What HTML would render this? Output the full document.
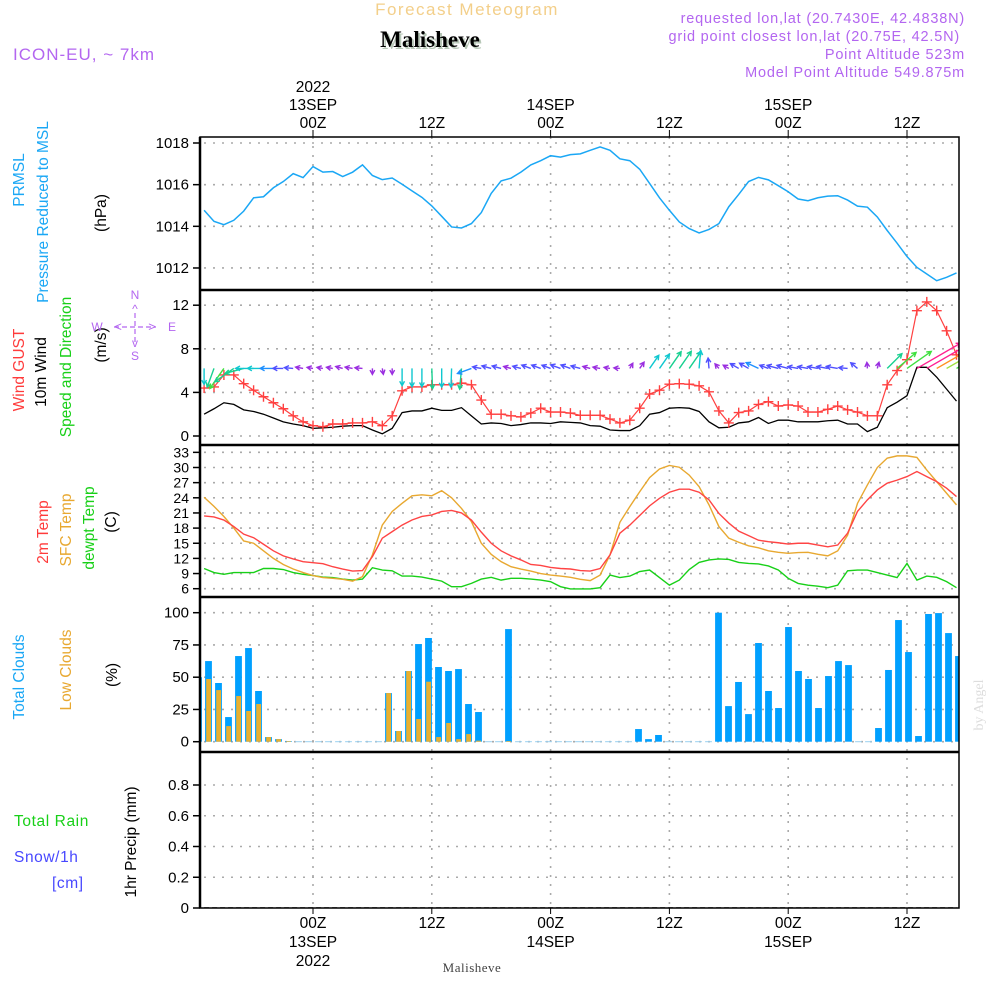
<!DOCTYPE html>
<html><head><meta charset="utf-8">
<style>
html,body{margin:0;padding:0;background:#fff;}
svg{display:block;font-family:"Liberation Sans",sans-serif;}
</style></head>
<body>
<svg id="chart" width="1000" height="1000" viewBox="0 0 1000 1000" xmlns="http://www.w3.org/2000/svg">
  <rect x="0" y="0" width="1000" height="1000" fill="#fff"/>
  <text x="467" y="15" text-anchor="middle" font-size="17" fill="#f3cf8a" letter-spacing="1.5">Forecast Meteogram</text>
  <text x="432" y="49" text-anchor="middle" font-size="23" font-weight="bold" font-family="Liberation Serif, serif" fill="#b8c8b8">Malisheve</text>
  <text x="430" y="47" text-anchor="middle" font-size="23" font-weight="bold" font-family="Liberation Serif, serif" fill="#000">Malisheve</text>
  <text x="13" y="60" font-size="17" fill="#b366f0" letter-spacing="1">ICON-EU, ~ 7km</text>
  <g font-size="14.5" fill="#b366f0" text-anchor="end" letter-spacing="0.8">
    <text x="965" y="23">requested lon,lat (20.7430E, 42.4838N)</text>
    <text x="960" y="41">grid point closest lon,lat (20.75E, 42.5N)</text>
    <text x="965" y="59">Point Altitude 523m</text>
    <text x="965" y="77">Model Point Altitude 549.875m</text>
  </g>
  <g id="plots"></g>
  <g font-size="15.5">
    <text transform="translate(24,180) rotate(-90)" text-anchor="middle" fill="#1aa7f5">PRMSL</text>
    <text transform="translate(48,212) rotate(-90)" text-anchor="middle" fill="#1aa7f5">Pressure Reduced to MSL</text>
    <text transform="translate(106,213) rotate(-90)" text-anchor="middle" fill="#000">(hPa)</text>
    <text transform="translate(24,370) rotate(-90)" text-anchor="middle" fill="#ff3b3b">Wind GUST</text>
    <text transform="translate(46,372) rotate(-90)" text-anchor="middle" fill="#000">10m Wind</text>
    <text transform="translate(71,367) rotate(-90)" text-anchor="middle" fill="#18d018">Speed and Direction</text>
    <text transform="translate(106,345) rotate(-90)" text-anchor="middle" fill="#000">(m/s)</text>
    <text transform="translate(48,532) rotate(-90)" text-anchor="middle" fill="#ff3b3b">2m Temp</text>
    <text transform="translate(71,530) rotate(-90)" text-anchor="middle" fill="#e8a830">SFC Temp</text>
    <text transform="translate(94,528) rotate(-90)" text-anchor="middle" fill="#18d018">dewpt Temp</text>
    <text transform="translate(116,522) rotate(-90)" text-anchor="middle" fill="#000">(C)</text>
    <text transform="translate(24,677) rotate(-90)" text-anchor="middle" fill="#1aa7f5">Total Clouds</text>
    <text transform="translate(71,670) rotate(-90)" text-anchor="middle" fill="#e8a830">Low Clouds</text>
    <text transform="translate(117,675) rotate(-90)" text-anchor="middle" fill="#000">(%)</text>
    <text transform="translate(136,842) rotate(-90)" text-anchor="middle" fill="#000">1hr Precip (mm)</text>
    <text x="14" y="826" fill="#18d018" letter-spacing="0.6">Total  Rain</text>
    <text x="14" y="862" fill="#4848ff" letter-spacing="0.6">Snow/1h</text>
    <text x="52" y="888" fill="#4848ff" letter-spacing="0.6">[cm]</text>
  </g>
  <g fill="#b366f0" stroke="none" font-size="12">
    <text x="135" y="299" text-anchor="middle">N</text>
    <text x="135" y="313" text-anchor="middle">^</text>
    <text x="97" y="331" text-anchor="middle">W</text>
    <text x="172" y="331" text-anchor="middle">E</text>
    <text x="135" y="347" text-anchor="middle">v</text>
    <text x="135" y="360" text-anchor="middle">S</text>
    <line x1="114" y1="327" x2="156" y2="327" stroke="#b366f0" stroke-width="1.2" stroke-dasharray="5,3"/>
    <line x1="135" y1="313" x2="135" y2="342" stroke="#b366f0" stroke-width="1.2" stroke-dasharray="5,3"/>
    <text x="118" y="331" text-anchor="middle" font-size="13">&lt;</text>
    <text x="152" y="331" text-anchor="middle" font-size="13">&gt;</text>
  </g>
  <text x="472" y="972" text-anchor="middle" font-size="13" font-family="Liberation Serif, serif" fill="#444" letter-spacing="0.5">Malisheve</text>
  <text transform="translate(983,705) rotate(-90)" text-anchor="middle" font-size="14" font-family="Liberation Serif, serif" fill="#ddd">by Angel</text>
</svg>
<script>
const startHour = -11;
const pressure = [1014.77,1014.24,1014.08,1014.29,1014.73,1015.37,1015.42,1015.85,1016.15,1016.53,1016.34,1016.87,1016.6,1016.63,1016.39,1016.6,1016.95,1016.44,1016.24,1016.32,1016.02,1015.7,1015.39,1014.98,1014.48,1013.97,1013.92,1014.13,1014.66,1015.58,1016.18,1016.31,1016.6,1016.95,1017.15,1017.39,1017.32,1017.44,1017.48,1017.65,1017.81,1017.65,1017.24,1017.15,1016.74,1016.06,1015.37,1014.77,1014.21,1013.89,1013.68,1013.85,1014.13,1014.94,1015.53,1016.15,1016.35,1016.23,1015.95,1015.66,1015.31,1015.23,1015.37,1015.45,1015.47,1015.26,1014.97,1014.92,1014.45,1013.8,1013.19,1012.55,1012.03,1011.71,1011.39,1011.55,1011.76];
const windGust = [4.4,4.5,5.6,5.6,4.8,4.2,3.6,3.05,2.5,1.85,1.3,0.95,0.85,1.1,1.1,1.2,1.2,1.3,0.95,1.85,4.15,4.5,4.5,4.7,4.7,4.7,4.85,4.7,3.3,2.0,2.0,1.85,1.75,2.1,2.55,2.2,2.2,2.1,1.9,1.9,1.9,1.55,1.2,1.45,2.55,3.85,4.2,4.75,4.8,4.75,4.6,4.05,2.3,1.2,2.15,2.3,2.9,3.15,2.75,2.85,2.75,2.2,2.2,2.45,2.75,2.4,2.2,1.85,1.85,4.7,6.0,7.0,11.5,12.3,11.5,9.65,7.45];
const wind10m = [2.0,2.5,3.05,2.9,2.4,2.25,2.0,1.65,1.3,1.1,0.95,0.7,0.75,0.8,0.9,0.95,0.95,0.55,0.2,0.7,2.15,2.3,2.3,2.55,2.35,2.35,2.6,1.85,1.1,1.2,1.15,0.95,1.05,1.2,1.2,1.15,1.3,1.25,1.2,0.95,0.9,0.55,0.5,0.5,0.95,2.0,2.15,2.55,2.6,2.55,2.25,1.3,0.75,0.8,1.2,1.3,1.7,1.15,1.45,1.45,1.3,1.3,1.3,1.4,1.45,1.1,1.1,0.4,0.8,2.6,3.1,3.7,6.3,6.3,5.4,4.3,3.2];
const windDir = [270,250,235,215,195,180,180,180,180,175,170,170,170,170,165,170,175,270,280,270,270,270,270,272,270,268,265,200,170,165,165,165,165,160,160,160,160,160,165,165,170,170,175,60,55,55,55,55,55,55,85,95,130,150,150,150,155,160,165,165,170,170,170,170,170,175,140,95,75,45,40,35,30,30,30,30,30];
const temp2m = [20.4,20.2,19.6,18.3,16.8,16.1,14.8,13.5,12.5,11.9,11.35,11.15,10.95,10.35,9.9,9.5,9.6,12.35,16.0,17.3,18.6,19.6,20.3,20.6,21.3,21.5,21.0,19.6,17.2,15.0,13.5,12.5,11.7,10.8,10.6,10.2,10.0,9.9,9.6,9.5,10.0,12.7,17.0,18.6,20.5,22.4,23.9,25.1,25.7,25.7,25.1,23.6,20.9,19.0,17.4,16.5,15.6,15.3,15.1,14.85,15.0,15.0,14.65,14.3,14.65,17.0,21.3,23.6,25.55,26.9,27.5,28.2,29.2,28.2,27.2,25.9,24.25];
const tempSfc = [24.1,22.3,20.3,18.0,15.45,15.0,13.5,12.0,10.8,9.9,9.2,8.6,8.2,8.05,7.85,7.5,8.4,12.7,18.6,21.3,22.9,24.4,24.6,24.4,25.4,24.0,21.9,19.3,15.0,12.8,11.35,10.35,9.9,9.5,9.0,8.7,8.5,8.25,7.85,7.6,8.7,12.7,19.15,22.25,25.2,28.0,29.7,30.4,30.05,28.5,26.2,22.6,18.3,16.0,15.2,14.5,14.1,13.5,13.2,13.0,13.15,13.2,12.8,12.5,13.5,16.6,22.9,26.55,30.0,31.85,32.3,32.3,32.0,29.5,27.2,24.9,22.6];
const dewpt = [10.0,9.2,8.85,9.2,9.2,9.2,10.0,10.0,9.8,9.2,8.85,8.6,8.3,8.2,7.9,7.7,7.9,10.15,9.7,9.55,8.5,8.5,8.3,7.9,7.5,6.4,6.4,7.05,7.9,8.25,7.7,8.05,8.05,7.9,7.7,7.4,6.4,5.95,5.95,5.95,6.2,8.7,8.2,8.5,9.4,9.7,8.2,6.7,7.7,9.8,11.2,11.7,11.9,11.8,11.2,11.0,10.9,10.5,9.7,8.05,7.05,6.7,6.5,6.2,6.7,9.55,9.7,9.7,9.2,8.7,8.2,11.0,7.7,8.5,8.25,7.4,6.2];
const cloudStart = -12;
const totalClouds = [50,62.5,45.5,19.1,66.4,72.6,39.3,3.6,2,0.5,0,0,0,0,0,0,0,0,0,37.7,8.3,54.8,75.7,80.4,57.9,54.8,56.3,29.2,23,0,0,87.3,0,0,0,0,0,0,0,0,0,0,0,0,9.8,2,5.2,0,0,0,0,0,100,27.6,46.3,21.4,76.5,39.3,26.1,88.9,54.8,48.6,26.1,50.9,62.5,59.4,0,0,10.6,55.6,94.3,69.5,4.4,99,99.7,84.2,66.4];
const lowClouds = [36,48.6,40,12.1,35.4,23.8,29.2,3.6,2,0.5,0,0,0,0,0,0,0,0,0,37.7,8.3,54.8,17.6,46.5,3.6,14.5,2,5.9,0.8,0,0,0.5,0,0,0,0,0,0,0,0,0,0,0,0,0,0,0,0,0,0,0,0,0,0,0,0,0,0,0,0,0,0,0,0,0,0,0,0,0,0,0,0,0,0,0,0,0];
const precip = new Array(77).fill(0);
const pressureTicks = [1012,1014,1016,1018];
const windTicks = [0,4,8,12];
const tempTicks = [6,9,12,15,18,21,24,27,30,33];
const cloudTicks = [0,25,50,75,100];
const precipTicks = [0,0.2,0.4,0.6,0.8];
const timeTicks = [0,12,24,36,48,60];
const timeLabels = ["00Z","12Z","00Z","12Z","00Z","12Z"];
const dayLabels = ["13SEP","","14SEP","","15SEP",""];

const L=200, R=959;
const xT = t => 313 + t*9.9;
const xB = t => 318.5 + t*10;
const yP = p => 143 + (1018-p)*20.83;
const yW = w => 436 - w*10.9;
const yT = t => 588.7 - (t-6)*5.05;
const yC = c => 741.7 - c*1.29;
const yR = r => 908 - r*153.75;
const panels = [[137,290],[290,445],[445,597],[597,752],[752,908]];

const NS="http://www.w3.org/2000/svg";
const root=document.getElementById('plots');
function mk(tag,attrs,parent){const e=document.createElementNS(NS,tag);for(const k in attrs)e.setAttribute(k,attrs[k]);(parent||root).appendChild(e);return e;}
const clip=mk('clipPath',{id:'pc'});mk('rect',{x:L,y:137,width:R-L,height:771},clip);

const grid=mk('g',{stroke:'#aaa','stroke-width':1.6,'stroke-dasharray':'2,7'});


timeTicks.forEach(t=>{mk('line',{x1:xT(t),x2:xT(t),y1:137,y2:908},grid);});
function hgrid(vals,f,p){vals.forEach(v=>{const y=f(v);if(y>p[0]+2&&y<p[1]-2)mk('line',{x1:L+4,x2:R,y1:y,y2:y},grid);});}
hgrid(pressureTicks,yP,panels[0]);hgrid(windTicks,yW,panels[1]);hgrid(tempTicks,yT,panels[2]);hgrid(cloudTicks,yC,panels[3]);hgrid(precipTicks,yR,panels[4]);

function yticks(vals,f,name,fs,fmt){const g=mk('g',{'font-size':fs,'text-anchor':'end',fill:'#000'});


vals.forEach(v=>{const y=f(v);mk('line',{x1:L-7,x2:L,y1:y,y2:y,stroke:'#000','stroke-width':1.5},g);const t=mk('text',{x:L-11,y:y+5},g);t.textContent=fmt?fmt(v):v;});}
yticks(pressureTicks,yP,'pressure-y-axis',15);
yticks(windTicks,yW,'wind-y-axis',15);
yticks(tempTicks,yT,'temp-y-axis',14,null);
yticks(cloudTicks,yC,'cloud-y-axis',15);
yticks(precipTicks,yR,'precip-y-axis',15,v=>v===0?'0':v.toFixed(1));

const xl=mk('g',{'font-size':15.5,'text-anchor':'middle',fill:'#000'});


timeTicks.forEach((t,i)=>{const x=xT(t);
 mk('line',{x1:x,x2:x,y1:130,y2:137,stroke:'#000'},xl);
 mk('line',{x1:x,x2:x,y1:908,y2:914,stroke:'#000'},xl);
 let e=mk('text',{x:x,y:128},xl);e.textContent=timeLabels[i];
 e=mk('text',{x:x,y:928},xl);e.textContent=timeLabels[i];
 if(dayLabels[i]){e=mk('text',{x:x,y:110},xl);e.textContent=dayLabels[i];e=mk('text',{x:x,y:947},xl);e.textContent=dayLabels[i];}
});
let ty=mk('text',{x:xT(0),y:92},xl);ty.textContent='2022';
ty=mk('text',{x:xT(0),y:966},xl);ty.textContent='2022';

const plot=mk('g',{'clip-path':'url(#pc)'});
function poly(arr,f,color,name,w,t0){const pts=arr.map((v,i)=>xT(i+t0)+','+f(v)).join(' ');const p=mk('polyline',{points:pts,fill:'none',stroke:color,'stroke-width':w||1.4},plot);

return p;}

poly(pressure,yP,'#1aa7f5','pressure-line',1.5,startHour);

const cg=mk('g',{},plot);


totalClouds.forEach((v,i)=>{const x=xB(i+cloudStart);
 if(v>0){const b=mk('rect',{x:x-3.4,y:yC(v),width:6.8,height:yC(0)-yC(v),fill:'#00a0ff'},cg);
 
 }
 const lv=lowClouds[i];
 if(lv>0){const b=mk('rect',{x:x-2.3,y:yC(lv),width:4.8,height:yC(0)-yC(lv),fill:'#e8b030'},cg);
 
 }
 if(v<=0&&lv<=0){mk('line',{x1:x-3.4,x2:x+3.4,y1:yC(0),y2:yC(0),stroke:'#9ad0f0','stroke-width':1},cg);}
});

poly(wind10m,yW,'#000','wind-10m-line',1.3,startHour);
poly(windGust,yW,'#ff4040','wind-gust-line',1.2,startHour);
const gm=mk('g',{stroke:'#ff4040','stroke-width':1.4},plot);


windGust.forEach((v,i)=>{const x=xT(i+startHour),y=yW(v);mk('path',{d:`M${x-5},${y}h10M${x},${y-5}v10`},gm);});
function spdColor(s){if(s<1)return '#9a2ee0';if(s<1.5)return '#5050ff';if(s<2)return '#1e90ff';if(s<2.4)return '#10c8d0';if(s<3)return '#18d090';if(s<4)return '#40e040';if(s<5)return '#a0e040';if(s<6)return '#ff9020';return '#ff2090';}
const ag=mk('g',{fill:'none','stroke-width':1.4},plot);


windDir.forEach((d,i)=>{const s=wind10m[i];const len=Math.max(6,8*s);const a=d*Math.PI/180;
 const x0=xT(i+startHour),y0=yW(6.2);const x1=x0+len*Math.cos(a),y1=y0-len*Math.sin(a);
 const c=spdColor(s);const h=5;
 const b1=a+Math.PI-0.5,b2=a+Math.PI+0.5;
 const p=mk('path',{d:`M${x0},${y0}L${x1},${y1}M${x1+h*Math.cos(b1)},${y1-h*Math.sin(b1)}L${x1},${y1}L${x1+h*Math.cos(b2)},${y1-h*Math.sin(b2)}`,stroke:c},ag);
 
 
});

poly(dewpt,yT,'#18d018','dewpoint-line',1.4,startHour);
poly(tempSfc,yT,'#e8a830','sfc-temp-line',1.4,startHour);
poly(temp2m,yT,'#ff4444','temp-2m-line',1.4,startHour);

const pl=poly(precip,yR,'#000','precip-line',1.5,startHour);
pl.setAttribute('stroke-dasharray','5,3');

const fr=mk('g',{fill:'none',stroke:'#000'});


mk('rect',{x:L,y:137,width:R-L,height:771,'stroke-width':1.5},fr);
[290,445,597,752].forEach(y=>mk('line',{x1:L,x2:R,y1:y,y2:y,'stroke-width':2.5},fr));
mk('line',{x1:L,x2:L,y1:137,y2:908,'stroke-width':2.5},fr);
</script>
</body></html>
